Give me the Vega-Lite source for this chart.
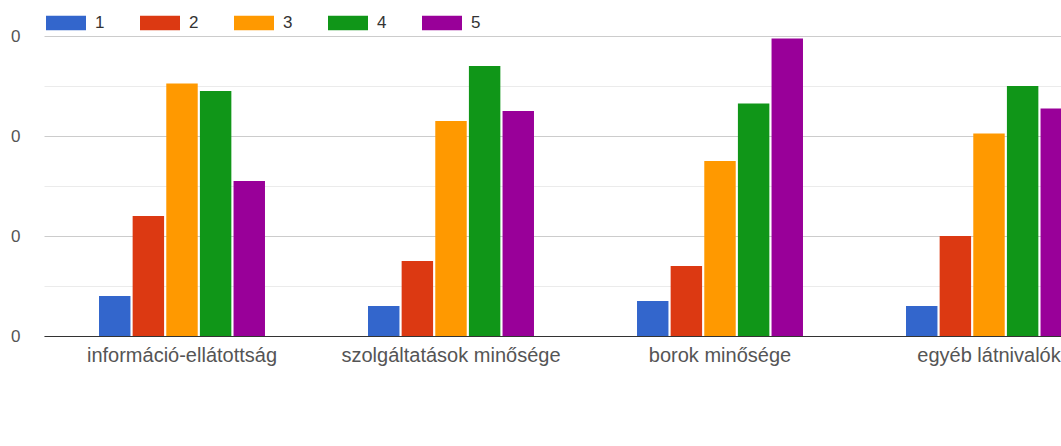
{
  "$schema": "https://vega.github.io/schema/vega-lite/v6.json",
  "autosize": {"type": "none"},
  "width": 1017,
  "height": 300,
  "padding": {"left": 44, "top": 36, "right": 0, "bottom": 110},
  "background": "white",
  "data": {
    "values": [
      {"aspect": "információ-ellátottság", "rating": "1", "count": 8},
      {"aspect": "információ-ellátottság", "rating": "2", "count": 24},
      {"aspect": "információ-ellátottság", "rating": "3", "count": 50.5},
      {"aspect": "információ-ellátottság", "rating": "4", "count": 49},
      {"aspect": "információ-ellátottság", "rating": "5", "count": 31},
      {"aspect": "szolgáltatások minősége", "rating": "1", "count": 6},
      {"aspect": "szolgáltatások minősége", "rating": "2", "count": 15},
      {"aspect": "szolgáltatások minősége", "rating": "3", "count": 43},
      {"aspect": "szolgáltatások minősége", "rating": "4", "count": 54},
      {"aspect": "szolgáltatások minősége", "rating": "5", "count": 45},
      {"aspect": "borok minősége", "rating": "1", "count": 7},
      {"aspect": "borok minősége", "rating": "2", "count": 14},
      {"aspect": "borok minősége", "rating": "3", "count": 35},
      {"aspect": "borok minősége", "rating": "4", "count": 46.5},
      {"aspect": "borok minősége", "rating": "5", "count": 59.5},
      {"aspect": "egyéb látnivalók", "rating": "1", "count": 6},
      {"aspect": "egyéb látnivalók", "rating": "2", "count": 20},
      {"aspect": "egyéb látnivalók", "rating": "3", "count": 40.5},
      {"aspect": "egyéb látnivalók", "rating": "4", "count": 50},
      {"aspect": "egyéb látnivalók", "rating": "5", "count": 45.5}
    ]
  },
  "mark": {"type": "bar"},
  "encoding": {
    "x": {
      "field": "aspect",
      "type": "nominal",
      "sort": ["információ-ellátottság", "szolgáltatások minősége", "borok minősége", "egyéb látnivalók"],
      "scale": {"range": [0, 1083], "paddingInner": 0.383, "paddingOuter": 0.2045},
      "axis": {
        "title": null,
        "labelAngle": 0,
        "labelFontSize": 20,
        "labelFont": "Liberation Sans",
        "labelColor": "#555",
        "ticks": false,
        "domainColor": "#333",
        "domainWidth": 1.2,
        "labelPadding": 9,
        "labelLimit": 0,
        "labelOverlap": false,
        "grid": false
      }
    },
    "xOffset": {
      "field": "rating",
      "type": "nominal",
      "scale": {"paddingInner": 0.065, "paddingOuter": 0}
    },
    "y": {
      "field": "count",
      "type": "quantitative",
      "scale": {"domain": [0, 60], "nice": false},
      "axis": {
        "title": null,
        "values": [0, 10, 20, 30, 40, 50, 60],
        "labelExpr": "datum.value % 20 === 0 ? '0' : ''",
        "domain": false,
        "ticks": false,
        "labelPadding": 24,
        "labelFontSize": 17,
        "labelFont": "Liberation Sans",
        "labelColor": "#555",
        "gridColor": {"condition": {"test": "datum.value % 20 === 0", "value": "#cccccc"}, "value": "#ebebeb"},
        "gridWidth": 1
      }
    },
    "color": {
      "field": "rating",
      "type": "nominal",
      "scale": {"domain": ["1", "2", "3", "4", "5"], "range": ["#3366cc", "#dc3912", "#ff9900", "#109618", "#990099"]},
      "legend": {
        "orient": "none",
        "legendX": 2,
        "legendY": -33,
        "direction": "horizontal",
        "title": null,
        "symbolType": "M-1,-0.36H1V0.36H-1Z",
        "symbolSize": 1600,
        "symbolStrokeWidth": 0,
        "symbolOpacity": 1,
        "labelOffset": 9,
        "columnPadding": 35,
        "labelFontSize": 17,
        "labelFont": "Liberation Sans",
        "labelColor": "#333",
        "padding": 0
      }
    }
  },
  "config": {"view": {"stroke": null}}
}
